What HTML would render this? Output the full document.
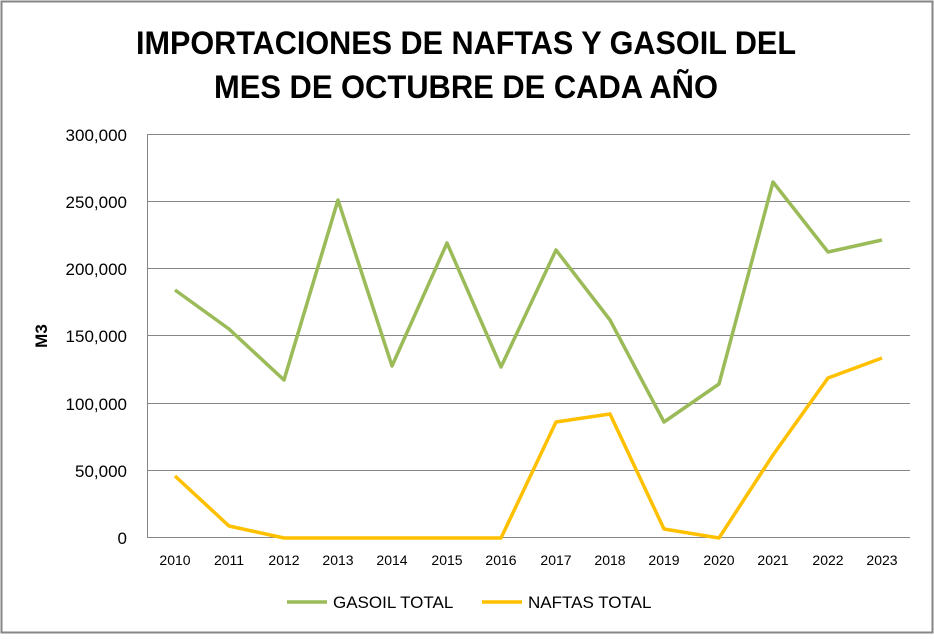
<!DOCTYPE html>
<html><head><meta charset="utf-8"><style>
html,body{margin:0;padding:0;background:#fff;}
</style></head><body>
<svg width="934" height="634" xmlns="http://www.w3.org/2000/svg" font-family="Liberation Sans, sans-serif">
<rect x="1.5" y="1.5" width="931" height="631" fill="#fff" stroke="#868686" stroke-width="2"/>
<text x="466" y="54" text-anchor="middle" font-size="32" font-weight="bold" textLength="660" lengthAdjust="spacingAndGlyphs">IMPORTACIONES DE NAFTAS Y GASOIL DEL</text>
<text x="466" y="98" text-anchor="middle" font-size="32" font-weight="bold" textLength="504" lengthAdjust="spacingAndGlyphs">MES DE OCTUBRE DE CADA AÑO</text>
<g stroke="#868686" stroke-width="1">
<line x1="147" y1="134.5" x2="910" y2="134.5"/>
<line x1="147" y1="201.5" x2="910" y2="201.5"/>
<line x1="147" y1="268.5" x2="910" y2="268.5"/>
<line x1="147" y1="335.5" x2="910" y2="335.5"/>
<line x1="147" y1="403.5" x2="910" y2="403.5"/>
<line x1="147" y1="470.5" x2="910" y2="470.5"/>
<line x1="147" y1="537.5" x2="910" y2="537.5"/>
<line x1="147.5" y1="134" x2="147.5" y2="538"/>
</g>
<g font-size="17" text-anchor="end" fill="#000">
<text x="127" y="141">300,000</text>
<text x="127" y="208">250,000</text>
<text x="127" y="275">200,000</text>
<text x="127" y="342">150,000</text>
<text x="127" y="410">100,000</text>
<text x="127" y="477">50,000</text>
<text x="127" y="544">0</text>
</g>
<text transform="translate(47,336) rotate(-90)" text-anchor="middle" font-size="17" font-weight="bold">M3</text>
<g font-size="14" text-anchor="middle">
<text x="175" y="565">2010</text><text x="229" y="565">2011</text><text x="284" y="565">2012</text><text x="338" y="565">2013</text><text x="392" y="565">2014</text><text x="447" y="565">2015</text><text x="501" y="565">2016</text><text x="556" y="565">2017</text><text x="610" y="565">2018</text><text x="664" y="565">2019</text><text x="719" y="565">2020</text><text x="773" y="565">2021</text><text x="828" y="565">2022</text><text x="882" y="565">2023</text>
</g>
<polyline fill="none" stroke="#9BBB59" stroke-width="3.5" stroke-linejoin="round" points="175,290 229,329 284,380 338,200 392,366 447,243 501,367 556,250 610,320 664,422 719,384 773,182 828,252 882,240"/>
<polyline fill="none" stroke="#FFC000" stroke-width="3.5" stroke-linejoin="round" points="175,476 229,526 284,538 338,538 392,538 447,538 501,538 556,422 610,414 664,529 719,538 773,455 828,378 882,358"/>
<line x1="287" y1="602" x2="327" y2="602" stroke="#9BBB59" stroke-width="3.5"/>
<text x="333" y="608" font-size="17">GASOIL TOTAL</text>
<line x1="482" y1="602" x2="522" y2="602" stroke="#FFC000" stroke-width="3.5"/>
<text x="528" y="608" font-size="17">NAFTAS TOTAL</text>
</svg>
</body></html>
